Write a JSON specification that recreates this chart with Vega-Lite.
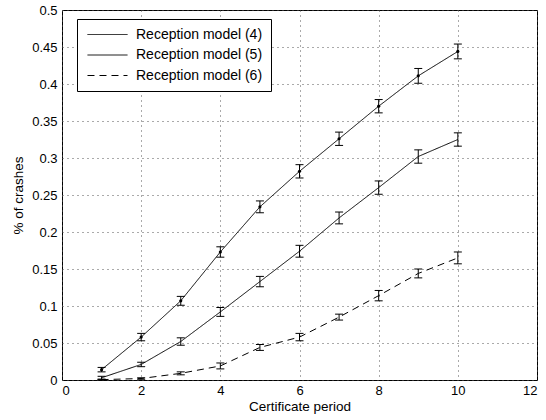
{
  "$schema": "https://vega.github.io/schema/vega-lite/v6.json",
  "width": 475,
  "height": 370,
  "autosize": {"type": "none"},
  "padding": {"left": 62, "top": 10, "right": 9, "bottom": 40},
  "background": "white",
  "config": {
    "font": "Liberation Sans",
    "view": {"stroke": "black", "strokeWidth": 1},
    "axis": {
      "domain": false,
      "grid": true,
      "gridColor": "#555555",
      "gridDash": [1, 4],
      "gridOpacity": 1,
      "gridWidth": 1,
      "ticks": false,
      "labelFont": "Liberation Sans",
      "labelFontSize": 13,
      "labelColor": "black",
      "titleFont": "Liberation Sans",
      "titleFontSize": 13.5,
      "titleFontWeight": "normal",
      "titleColor": "black"
    },
    "legend": {
      "orient": "none",
      "legendX": 15,
      "legendY": 9,
      "strokeColor": "black",
      "fillColor": "white",
      "padding": 8,
      "symbolType": "M-3,0H3",
      "symbolSize": 178,
      "symbolOffset": 15,
      "symbolStrokeColor": "black",
      "symbolStrokeWidth": 1,
      "labelFont": "Liberation Sans",
      "labelFontSize": 14,
      "labelColor": "black",
      "labelOffset": 21,
      "rowPadding": 5.5,
      "title": null
    }
  },
  "data": {
    "values": [
      {"x": 1, "y": 0.014, "lo": 0.011, "hi": 0.017, "m": "Reception model (4)"},
      {"x": 2, "y": 0.058, "lo": 0.053, "hi": 0.063, "m": "Reception model (4)"},
      {"x": 3, "y": 0.107, "lo": 0.101, "hi": 0.113, "m": "Reception model (4)"},
      {"x": 4, "y": 0.173, "lo": 0.166, "hi": 0.180, "m": "Reception model (4)"},
      {"x": 5, "y": 0.234, "lo": 0.226, "hi": 0.242, "m": "Reception model (4)"},
      {"x": 6, "y": 0.282, "lo": 0.273, "hi": 0.291, "m": "Reception model (4)"},
      {"x": 7, "y": 0.326, "lo": 0.317, "hi": 0.335, "m": "Reception model (4)"},
      {"x": 8, "y": 0.370, "lo": 0.361, "hi": 0.379, "m": "Reception model (4)"},
      {"x": 9, "y": 0.411, "lo": 0.401, "hi": 0.421, "m": "Reception model (4)"},
      {"x": 10, "y": 0.444, "lo": 0.434, "hi": 0.454, "m": "Reception model (4)"},
      {"x": 1, "y": 0.003, "lo": 0.001, "hi": 0.005, "m": "Reception model (5)"},
      {"x": 2, "y": 0.021, "lo": 0.018, "hi": 0.024, "m": "Reception model (5)"},
      {"x": 3, "y": 0.052, "lo": 0.047, "hi": 0.057, "m": "Reception model (5)"},
      {"x": 4, "y": 0.092, "lo": 0.086, "hi": 0.098, "m": "Reception model (5)"},
      {"x": 5, "y": 0.133, "lo": 0.126, "hi": 0.140, "m": "Reception model (5)"},
      {"x": 6, "y": 0.174, "lo": 0.166, "hi": 0.182, "m": "Reception model (5)"},
      {"x": 7, "y": 0.219, "lo": 0.211, "hi": 0.227, "m": "Reception model (5)"},
      {"x": 8, "y": 0.260, "lo": 0.251, "hi": 0.269, "m": "Reception model (5)"},
      {"x": 9, "y": 0.302, "lo": 0.293, "hi": 0.311, "m": "Reception model (5)"},
      {"x": 10, "y": 0.325, "lo": 0.316, "hi": 0.334, "m": "Reception model (5)"},
      {"x": 1, "y": 0.0005, "lo": 0.0, "hi": 0.001, "m": "Reception model (6)"},
      {"x": 2, "y": 0.002, "lo": 0.001, "hi": 0.003, "m": "Reception model (6)"},
      {"x": 3, "y": 0.009, "lo": 0.007, "hi": 0.011, "m": "Reception model (6)"},
      {"x": 4, "y": 0.019, "lo": 0.015, "hi": 0.023, "m": "Reception model (6)"},
      {"x": 5, "y": 0.044, "lo": 0.040, "hi": 0.048, "m": "Reception model (6)"},
      {"x": 6, "y": 0.058, "lo": 0.053, "hi": 0.063, "m": "Reception model (6)"},
      {"x": 7, "y": 0.085, "lo": 0.081, "hi": 0.089, "m": "Reception model (6)"},
      {"x": 8, "y": 0.114, "lo": 0.107, "hi": 0.121, "m": "Reception model (6)"},
      {"x": 9, "y": 0.144, "lo": 0.138, "hi": 0.150, "m": "Reception model (6)"},
      {"x": 10, "y": 0.165, "lo": 0.157, "hi": 0.173, "m": "Reception model (6)"}
    ]
  },
  "encoding": {
    "x": {
      "field": "x",
      "type": "quantitative",
      "scale": {"domain": [0, 12], "nice": false, "zero": false},
      "axis": {"values": [0, 2, 4, 6, 8, 10, 12], "title": "Certificate period", "labelPadding": 4, "titlePadding": 2}
    }
  },
  "layer": [
    {
      "mark": {"type": "line", "color": "black", "strokeWidth": 1},
      "encoding": {
        "y": {
          "field": "y",
          "type": "quantitative",
          "scale": {"domain": [0, 0.5], "nice": false},
          "axis": {"values": [0, 0.05, 0.1, 0.15, 0.2, 0.25, 0.3, 0.35, 0.4, 0.45, 0.5], "format": "~g", "title": "% of crashes", "labelPadding": 5, "titlePadding": 6}
        },
        "strokeDash": {
          "field": "m",
          "type": "nominal",
          "scale": {"domain": ["Reception model (4)", "Reception model (5)", "Reception model (6)"], "range": [[1, 0], [1, 0], [7, 5]]}
        }
      }
    },
    {
      "transform": [{"filter": "datum.m === 'Reception model (4)'"}],
      "mark": {"type": "point", "filled": true, "color": "black", "size": 10, "opacity": 1},
      "encoding": {"y": {"field": "y", "type": "quantitative", "axis": {"values": [0, 0.05, 0.1, 0.15, 0.2, 0.25, 0.3, 0.35, 0.4, 0.45, 0.5], "format": "~g", "title": "% of crashes", "labelPadding": 5, "titlePadding": 6}}}
    },
    {
      "mark": {"type": "rule", "color": "black", "strokeWidth": 1},
      "encoding": {"y": {"field": "lo", "type": "quantitative", "axis": {"values": [0, 0.05, 0.1, 0.15, 0.2, 0.25, 0.3, 0.35, 0.4, 0.45, 0.5], "format": "~g", "title": "% of crashes", "labelPadding": 5, "titlePadding": 6}}, "y2": {"field": "hi"}}
    },
    {
      "mark": {"type": "tick", "orient": "horizontal", "color": "black", "size": 8, "thickness": 1, "opacity": 1},
      "encoding": {"y": {"field": "lo", "type": "quantitative", "axis": {"values": [0, 0.05, 0.1, 0.15, 0.2, 0.25, 0.3, 0.35, 0.4, 0.45, 0.5], "format": "~g", "title": "% of crashes", "labelPadding": 5, "titlePadding": 6}}}
    },
    {
      "mark": {"type": "tick", "orient": "horizontal", "color": "black", "size": 8, "thickness": 1, "opacity": 1},
      "encoding": {"y": {"field": "hi", "type": "quantitative", "axis": {"values": [0, 0.05, 0.1, 0.15, 0.2, 0.25, 0.3, 0.35, 0.4, 0.45, 0.5], "format": "~g", "title": "% of crashes", "labelPadding": 5, "titlePadding": 6}}}
    }
  ]
}
